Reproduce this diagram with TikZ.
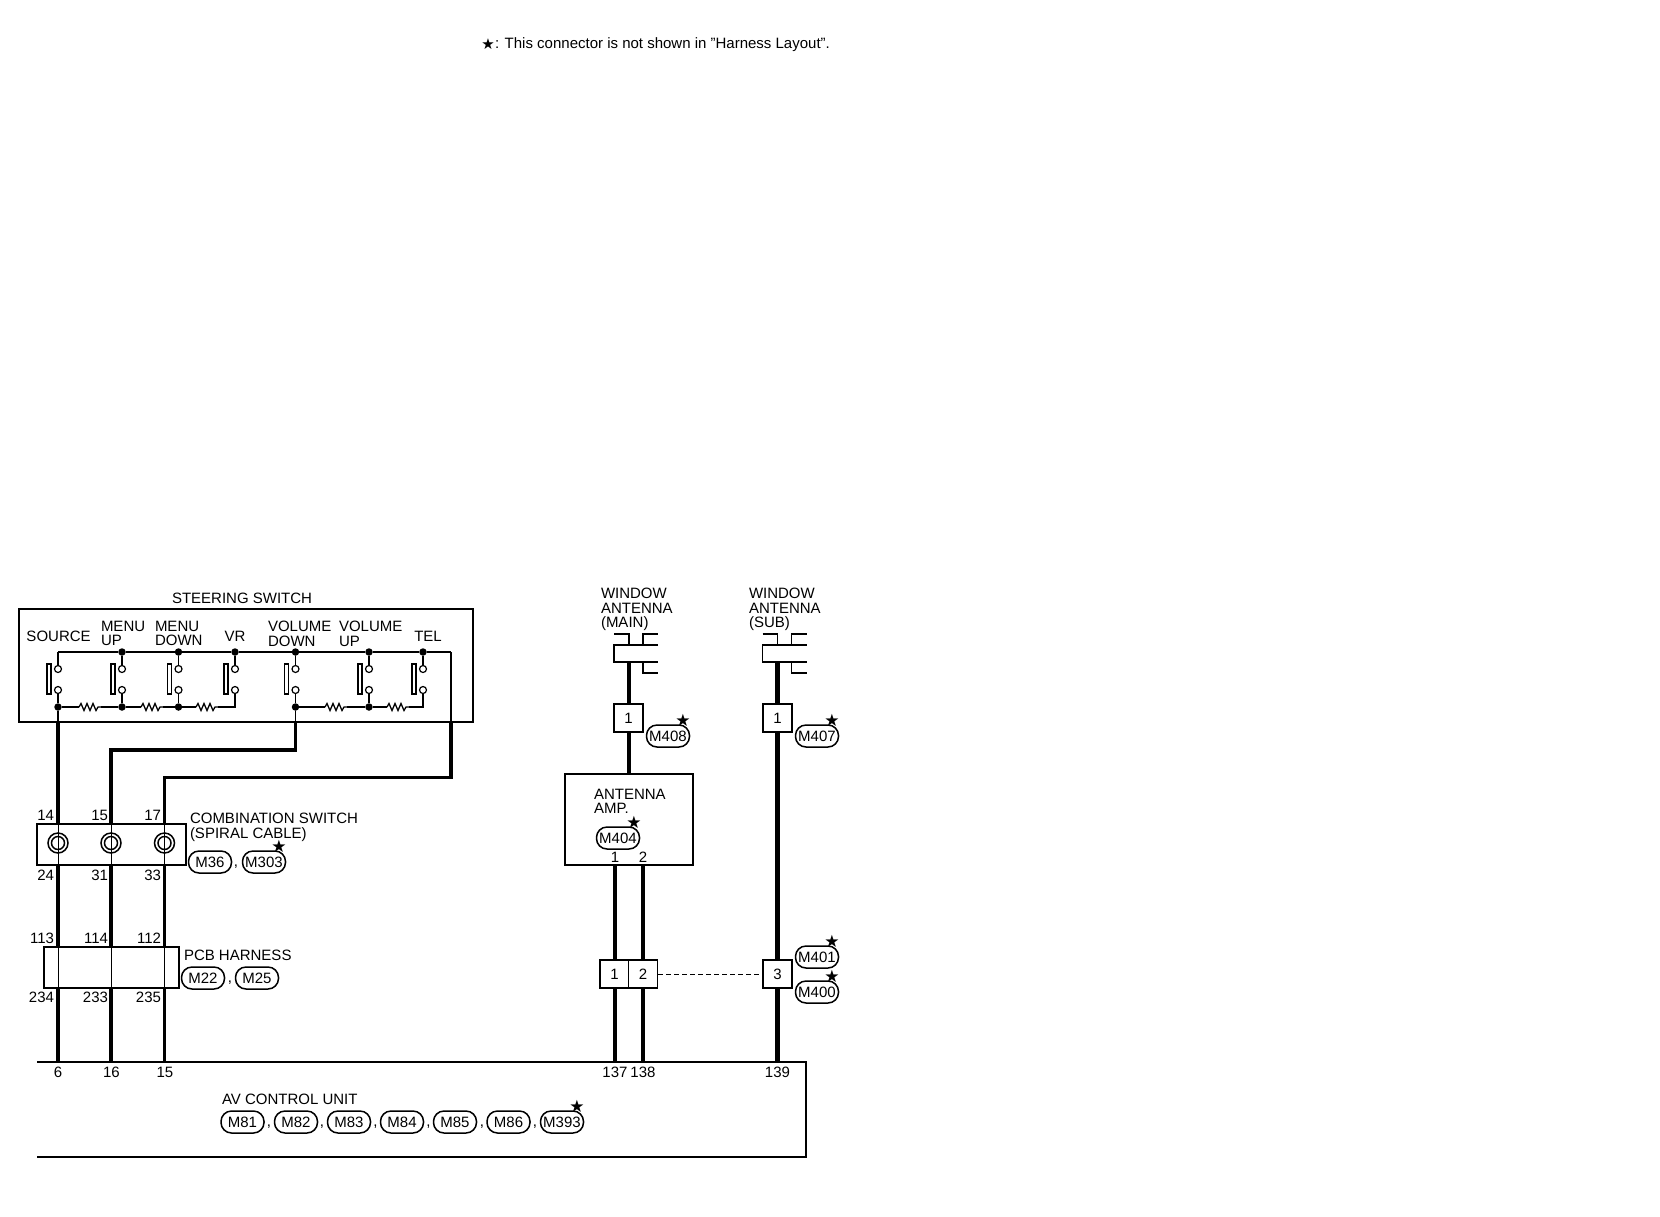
\documentclass[tikz,border=0pt]{standalone}
\usepackage{fontspec}
\setmainfont{Liberation Sans}
\newfontfamily\starfont{DejaVu Sans}
\tikzset{
  lab/.style={inner sep=0pt,outer sep=0pt,font=\fontsize{15}{14.6}\selectfont,text=black},
  tl/.style={lab,anchor=base west},
  tr/.style={lab,anchor=base east},
  tc/.style={lab,anchor=base},
  ml/.style={lab,anchor=north west,align=left},
  pill/.style={draw,line width=1.5pt,rounded corners=10.5pt,minimum width=43pt,minimum height=22pt,inner sep=0pt,font=\fontsize{15}{15}\selectfont},
  starmark/.style={inner sep=0pt,font=\starfont\fontsize{17}{17}\selectfont},
  notestarmark/.style={inner sep=0pt,font=\starfont\fontsize{15}{15}\selectfont},
  conbox/.style={draw,fill=white,line width=1.3pt,minimum width=29pt,minimum height=28pt,inner sep=0pt,font=\fontsize{15}{15}\selectfont},
  wa/.style={line width=4.6pt},
  wb/.style={line width=3.6pt},
  thinw/.style={line width=1.1pt},
  inw/.style={line width=1.5pt},
  dotn/.style={circle,fill=black,inner sep=0pt,minimum size=7.5pt},
  term/.style={circle,draw,fill=white,line width=1.2pt,inner sep=0pt,minimum size=7pt},
  swbar/.style={draw,line width=1.3pt,fill=white,inner sep=0pt,minimum width=4pt,minimum height=30pt},
  spiral/.style={circle,draw,line width=1.5pt,inner sep=0pt},
}
\begin{document}
\begin{tikzpicture}[x=1pt,y=-1pt]
\useasboundingbox[fill=white] (0,0) rectangle (1660,1216);

% note
\node[notestarmark] (notestar) at (488,44) {★};
\node[lab,anchor=west] (note) at (495,44.5) {: This connector is not shown in "Harness Layout".};

% steering switch
\node[tc] (sstitle) at (242,603) {STEERING SWITCH};
\coordinate (ssNW) at (19,609); \coordinate (ssNE) at (473,609);
\coordinate (ssSW) at (19,722); \coordinate (ssSE) at (473,722);
\draw[line width=1.3pt] (ssNW) -- (ssSW);
\draw[line width=1.8pt] (ssNE) -- (ssSE);
\draw[line width=2.8pt] ([xshift=-.6pt]ssNW) -- ([xshift=.9pt]ssNE);
\draw[line width=1.9pt] ([xshift=-.6pt]ssSW) -- ([xshift=.9pt]ssSE);

\node[tl] at (26.5,641) {SOURCE};
\node[ml] at (101,621) {MENU\\UP};
\node[ml] at (155,621) {MENU\\DOWN};
\node[tc] at (235,641) {VR};
\node[ml] at (268,621) {VOLUME\\DOWN};
\node[ml] at (339,621) {VOLUME\\UP};
\node[tc] at (428,641) {TEL};

\coordinate (tsrc) at (58,652);
\coordinate (bsrc) at (58,707);
\foreach \n/\x in {mu/122,md/178.5,vr/235,vd/295.5,vu/369,te/423}
  \node[dotn] (t\n) at (\x,652) {};
\foreach \n/\x in {src/58,mu/122,md/178.5,vd/295.5,vu/369}
  \node[dotn] (b\n) at (\x,707) {};
\coordinate (bvr) at (235,707);
\coordinate (bte) at (423,707);
\coordinate (tend) at (451,652);
\draw[inw] (tsrc) -- (tmu) -- (tmd) -- (tvr) -- (tvd) -- (tvu) -- (tte) -- (tend);

\foreach \n/\x in {src/58,mu/122,md/178.5,vr/235,vd/295.5,vu/369,te/423}{
  \node[swbar] (bar\n) at (\x-9,679) {};
  \draw[inw] (t\n) -- (\x,665);
  \draw[inw] (b\n) -- (\x,694);
  \node[term] (ua\n) at (\x,669) {};
  \node[term] (ub\n) at (\x,690) {};
}
% resistors
\draw[inw] (bsrc) -- (bmu) -- (bmd) -- (bvr) -- (ubvr);
\draw[inw] (bvd) -- (bvu) -- (bte) -- (ubte);
\foreach \x in {90,152,207,336,398}{
  \fill[white] (\x-11,704) rectangle (\x+11,710);
  \draw[line width=1.3pt,line join=miter] (\x-11,707) -- ++(2,-3.5) -- ++(3,7) -- ++(3,-7) -- ++(3,7) -- ++(3,-7) -- ++(3,7) -- ++(2,-3.5) -- (\x+11,707);
}
\coordinate (xsrc) at (58,722);
\coordinate (xvd) at (295.5,722);
\coordinate (xtel) at (451,722);
\draw[inw] (bsrc) -- (xsrc);
\draw[inw] (bvd) -- (xvd);
\draw[thinw] (tend) -- (xtel);

% AV control unit
\coordinate (avNW) at (37,1062); \coordinate (avNE) at (806,1062);
\coordinate (avSW) at (37,1157); \coordinate (avSE) at (806,1157);
\draw[line width=1.8pt] (avNW) -- (avNE) -- (avSE) -- (avSW);
\coordinate (av6) at (58,1062);
\coordinate (av16) at (111,1062);
\coordinate (av15) at (164.5,1062);
\coordinate (av137) at (615,1062);
\coordinate (av138) at (643,1062);
\coordinate (av139) at (777.5,1062);

% wires
\draw[wa] (xsrc) -- (av6);
\draw[wb,line join=miter] (av16) -- (111,750) -| (xvd);
\draw[line width=3.2pt,line join=miter] (av15) -- (164.5,777.5) -- (453,777.5);
\draw[wa,line join=miter] (451,779.1) -- (xtel);

% combination switch
\node[draw,fill=white,line width=1.5pt,minimum width=149pt,minimum height=41pt,inner sep=0pt] (comb) at (111.5,844.5) {};
\foreach \n/\x in {a/58,b/111,c/164.5}{
  \node[spiral,minimum size=20pt] (so\n) at (\x,843) {};
  \node[spiral,minimum size=13pt] (si\n) at (\x,843) {};
  \draw[line width=1pt] (\x,825) -- (\x,864);
}
\node[tr] at (54,820) {14};
\node[tr] at (108,820) {15};
\node[tr] at (161,820) {17};
\node[tr] at (54,880) {24};
\node[tr] at (108,880) {31};
\node[tr] at (161,880) {33};
\node[ml] (combl) at (190,813) {COMBINATION SWITCH\\(SPIRAL CABLE)};
\node[pill] (m36) at (210,862) {M36};
\node[tc] at (236,866) {,};
\node[pill] (m303) at (264,862) {M303};
\node[starmark] at (279,846) {★};

% PCB harness
\node[draw,fill=white,line width=1.1pt,minimum width=135pt,minimum height=41pt,inner sep=0pt] (pcb) at (111.5,967.5) {};
\foreach \x in {58,111,164.5} \draw[line width=1pt] (\x,948) -- (\x,987);
\node[tr] at (54,943) {113};
\node[tr] at (108,943) {114};
\node[tr] at (161,943) {112};
\node[tr] at (54,1002) {234};
\node[tr] at (108,1002) {233};
\node[tr] at (161,1002) {235};
\node[tl] at (184,960) {PCB HARNESS};
\node[pill] (m22) at (203,978) {M22};
\node[tc] at (230,982) {,};
\node[pill] (m25) at (257,978) {M25};

% AV labels
\node[tc] at (58,1077) {6};
\node[tc] at (111.5,1077) {16};
\node[tc] at (165,1077) {15};
\node[tc] at (615,1077) {137};
\node[tc] at (643,1077) {138};
\node[tc] at (777.5,1077) {139};
\node[tl] at (222,1104) {AV CONTROL UNIT};
\foreach \n/\x in {M81/242.5,M82/296,M83/349,M84/402,M85/455,M86/508.5,M393/562}
  \node[pill] (\n) at (\x,1122) {\n};
\foreach \x in {269,322,375.5,428.5,482,535}
  \node[tc] at (\x,1126) {,};
\node[starmark] at (577,1106) {★};

% window antenna main
\node[ml] at (601,588) {WINDOW\\ANTENNA\\(MAIN)};
\node[ml] at (749,588) {WINDOW\\ANTENNA\\(SUB)};
\foreach \n/\x in {m/629,s/777.5}{
  \coordinate (ant\n) at (\x,662);
  \draw[inw] (\x-15,634) -- (\x,634) -- (\x,645);
  \draw[inw] (\x+14,645) -- (\x+14,634) -- (\x+29,634);
  \draw[line width=1.1pt] (\x+14,662) -- (\x+14,673) -- (\x+29,673);
  \draw[line width=1.7pt] (\x+29,645) -- (\x-15,645) -- (\x-15,662) -- (\x+29,662);
}

% antenna amp
\node[draw,line width=1.6pt,minimum width=128pt,minimum height=91pt,inner sep=0pt] (amp) at (629,819.5) {};
\coordinate (ampt) at (629,774);
\coordinate (amp1) at (615,865);
\coordinate (amp2) at (643,865);
\node[ml] at (594,789) {ANTENNA\\AMP.};
\node[pill] (m404) at (618,838) {M404};
\node[starmark] at (634,822) {★};
\node[tc] at (615,862) {1};
\node[tc] at (643,862) {2};

% wires of right part
\draw[wb] (antm) -- (ampt);
\draw[wa] (ants) -- (av139);
\draw[line width=4pt] (amp1) -- (av137);
\draw[line width=4pt] (amp2) -- (av138);

% connector boxes
\node[conbox] (c408) at (628.5,718) {1};
\node[conbox] (c407) at (777.5,718) {1};
\node[pill] (m408) at (668,736) {M408};
\node[starmark] at (683,720) {★};
\node[pill] (m407) at (817,736) {M407};
\node[starmark] at (832,720) {★};
\node[conbox,line width=1.7pt] (c1) at (614.5,974) {1};
\node[conbox,line width=1.5pt] (c2) at (643,974) {2};
\node[conbox] (c3) at (777.5,974) {3};
\draw[line width=1pt,dash pattern=on 5pt off 3pt] (c2) -- (c3);
\node[pill] (m401) at (817,957) {M401};
\node[starmark] at (832,941) {★};
\node[pill] (m400) at (817,992) {M400};
\node[starmark] at (832,976) {★};
\end{tikzpicture}
\end{document}
